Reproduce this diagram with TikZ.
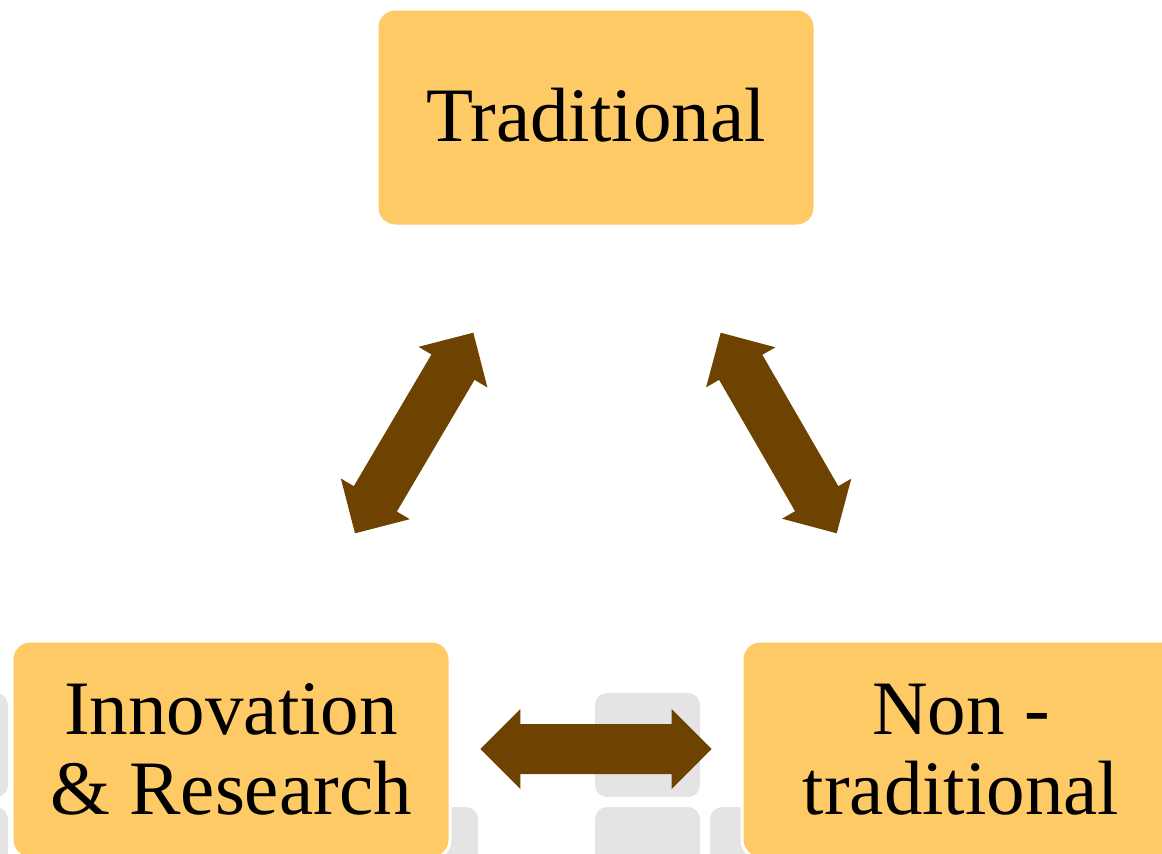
\documentclass[tikz,border=0pt]{standalone}
\usepackage{fontspec}
\setmainfont{Liberation Serif}
\usetikzlibrary{calc}
\definecolor{boxfill}{HTML}{FECA66}
\definecolor{arrowbrown}{HTML}{6E4200}
\definecolor{tilegray}{HTML}{E4E4E4}
\newcommand\dblarrow[2]{%
  \coordinate (#1-h) at ($(#1)!40pt!(#2)$);
  \coordinate (#2-h) at ($(#2)!40pt!(#1)$);
  \fill[barrow] (#1) -- ($(#1-h)!40pt!90:(#2)$) -- ($(#1-h)!25pt!90:(#2)$)
    -- ($(#2-h)!25pt!-90:(#1)$) -- ($(#2-h)!40pt!-90:(#1)$) -- (#2)
    -- ($(#2-h)!40pt!90:(#1)$) -- ($(#2-h)!25pt!90:(#1)$)
    -- ($(#1-h)!25pt!-90:(#2)$) -- ($(#1-h)!40pt!-90:(#2)$) -- cycle;}
\begin{document}
\begin{tikzpicture}[x=1pt,y=-1pt,
  box/.style={fill=boxfill, draw=white, line width=3pt, rounded corners=18pt,
    minimum width=438pt, minimum height=217pt, inner sep=0pt,
    font=\fontsize{77}{80}\selectfont, align=center},
  tile/.style={fill=tilegray, rounded corners=12pt},
  barrow/.style={fill=arrowbrown}]
\useasboundingbox (0,0) rectangle (1162,854);
\clip (0,0) rectangle (1162,854);
% background tiles
\fill[tile] (595,693) rectangle (700,797);
\fill[tile] (-97,693) rectangle (8,797);
\fill[tile] (595,807) rectangle (700,912);
\fill[tile] (710,807) rectangle (815,912);
\fill[tile] (373,807) rectangle (478,912);
\fill[tile] (-97,807) rectangle (8,912);
% boxes
\node[box, text depth=5pt] (trad) at (596,117.5) {Traditional};
\node[box] (innov) at (231,749.5) {Innovation\\\& Research};
\node[box] (nontrad) at (961,749.5) {Non -\\traditional};
% arrow ends
\coordinate (lA) at (355,533.3);
\coordinate (lB) at (473.3,332.7);
\coordinate (rA) at (720.7,332.7);
\coordinate (rB) at (836.7,533.3);
\coordinate (hA) at (480.3,749);
\coordinate (hB) at (711.6,749);
\dblarrow{lA}{lB}
\dblarrow{rA}{rB}
\dblarrow{hA}{hB}
\end{tikzpicture}
\end{document}
